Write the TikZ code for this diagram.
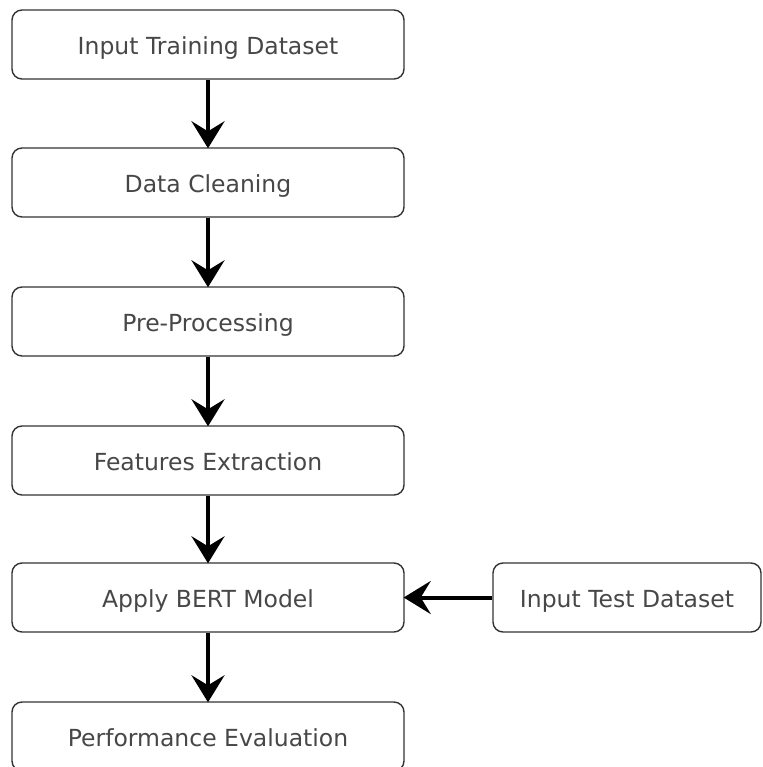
\documentclass[tikz,border=0pt]{standalone}
\usepackage{fontspec}
\setmainfont{DejaVu Sans}
\usetikzlibrary{arrows.meta}
\definecolor{boxline}{HTML}{333333}
\definecolor{boxtext}{HTML}{474747}
\tikzset{
  stagebox/.style={draw=boxline, line width=1.4pt, rounded corners=10pt,
    fill=white, text=boxtext, font=\fontsize{23.5}{26}\selectfont,
    minimum height=69pt, inner sep=0pt, text height=22pt, text depth=2pt},
  leftbox/.style={stagebox, minimum width=392pt},
  rightbox/.style={stagebox, minimum width=268pt},
  flow/.style={line width=4pt, draw=black,
    -{Stealth[length=27pt, width=33pt, inset=10pt]}, shorten >=-1pt}
}
\begin{document}
\begin{tikzpicture}[x=1pt, y=-1pt]
\useasboundingbox (0,0) rectangle (762,767);
% processing pipeline
\node[leftbox] (train) at (208,44.5) {Input Training Dataset};
\node[leftbox] (clean) at (208,182.5) {Data Cleaning};
\node[leftbox] (prep)  at (208,321.5) {Pre-Processing};
\node[leftbox] (feat)  at (208,460.5) {Features Extraction};
\node[leftbox] (bert)  at (208,597.5) {Apply BERT Model};
\node[leftbox] (eval)  at (208,736.5) {Performance Evaluation};
% side input
\node[rightbox] (test) at (627,597.5) {Input Test Dataset};
% connectors
\draw[flow] (train) -- (clean);
\draw[flow] (clean) -- (prep);
\draw[flow] (prep) -- (feat);
\draw[flow] (feat) -- (bert);
\draw[flow] (bert) -- (eval);
\draw[flow] (test) -- (bert);
\end{tikzpicture}
\end{document}
